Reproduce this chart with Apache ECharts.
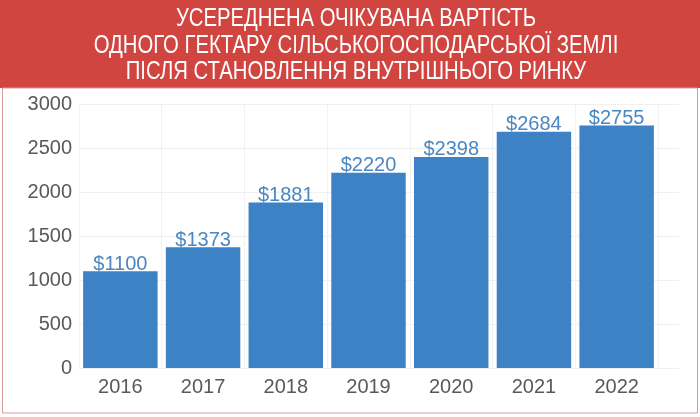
<!DOCTYPE html>
<html>
<head>
<meta charset="utf-8">
<script src="https://cdn.jsdelivr.net/npm/echarts@6/dist/echarts.min.js"></script>
<style>
  html, body { margin: 0; padding: 0; background: #fff; }
  #main { width: 700px; height: 417px; }
</style>
</head>
<body>
<div id="main"></div>
<script>
const titleLines = [
  'УСЕРЕДНЕНА ОЧІКУВАНА ВАРТІСТЬ',
  'ОДНОГО ГЕКТАРУ СІЛЬСЬКОГОСПОДАРСЬКОЇ ЗЕМЛІ',
  'ПІСЛЯ СТАНОВЛЕННЯ ВНУТРІШНЬОГО РИНКУ'
]
const years = ['2016', '2017', '2018', '2019', '2020', '2021', '2022']
const prices = [1100, 1373, 1881, 2220, 2398, 2684, 2755]

const chart = echarts.init(document.getElementById('main'))

chart.setOption({
  animation: false,
  graphic: [
    {
      type: 'rect',
      shape: { x: 0, y: 0, width: 700, height: 88 },
      style: { fill: '#d14541' },
      z: 0
    },
    {
      type: 'rect',
      shape: { x: 2.5, y: 88, width: 695, height: 325 },
      style: { fill: 'none', stroke: '#d89a9a', lineWidth: 1 },
      z: 0
    },
    {
      // title is a condensed face in the original, so squeeze it horizontally
      type: 'text',
      x: 356,
      y: 6,
      scaleX: 0.78,
      style: {
        text: titleLines.join('\n'),
        fill: '#fff',
        font: '26px "Liberation Sans", sans-serif',
        lineHeight: 26.5,
        textAlign: 'center',
        textVerticalAlign: 'top'
      },
      z: 1
    }
  ],
  grid: [
    { left: 79, right: 42, top: 104, bottom: 49 },
    { left: 79, right: 21, top: 104, bottom: 49 }
  ],
  xAxis: [
    {
      type: 'category',
      data: years,
      gridIndex: 0,
      axisLine: { show: false },
      axisTick: { show: false },
      axisLabel: {
        color: '#595959',
        fontSize: 20,
        fontFamily: 'Liberation Sans, Arial, sans-serif',
        margin: 9
      },
      splitLine: { show: true, lineStyle: { color: '#f2f2f2' } }
    },
    {
      type: 'value',
      gridIndex: 1,
      min: 0,
      max: 1,
      show: false
    }
  ],
  yAxis: [
    {
      type: 'value',
      gridIndex: 0,
      min: 0,
      max: 3000,
      interval: 500,
      axisLine: { show: false },
      axisTick: { show: false },
      axisLabel: {
        color: '#595959',
        fontSize: 20,
        fontFamily: 'Liberation Sans, Arial, sans-serif',
        margin: 7,
        formatter: v => String(v)
      },
      splitLine: { show: false }
    },
    {
      type: 'value',
      gridIndex: 1,
      min: 0,
      max: 3000,
      interval: 500,
      axisLine: { show: false },
      axisTick: { show: false },
      axisLabel: { show: false },
      splitLine: { show: true, lineStyle: { color: '#f0f0f0' } }
    }
  ],
  series: [
    {
      type: 'bar',
      data: prices,
      xAxisIndex: 0,
      yAxisIndex: 0,
      barCategoryGap: '10%',
      itemStyle: { color: '#3d82c4' },
      label: {
        show: true,
        position: 'top',
        distance: -3,
        formatter: '${c}',
        color: '#4a87c1',
        fontSize: 20,
        fontFamily: 'Liberation Sans, Arial, sans-serif'
      },
      z: 3
    }
  ]
})
</script>
</body>
</html>
